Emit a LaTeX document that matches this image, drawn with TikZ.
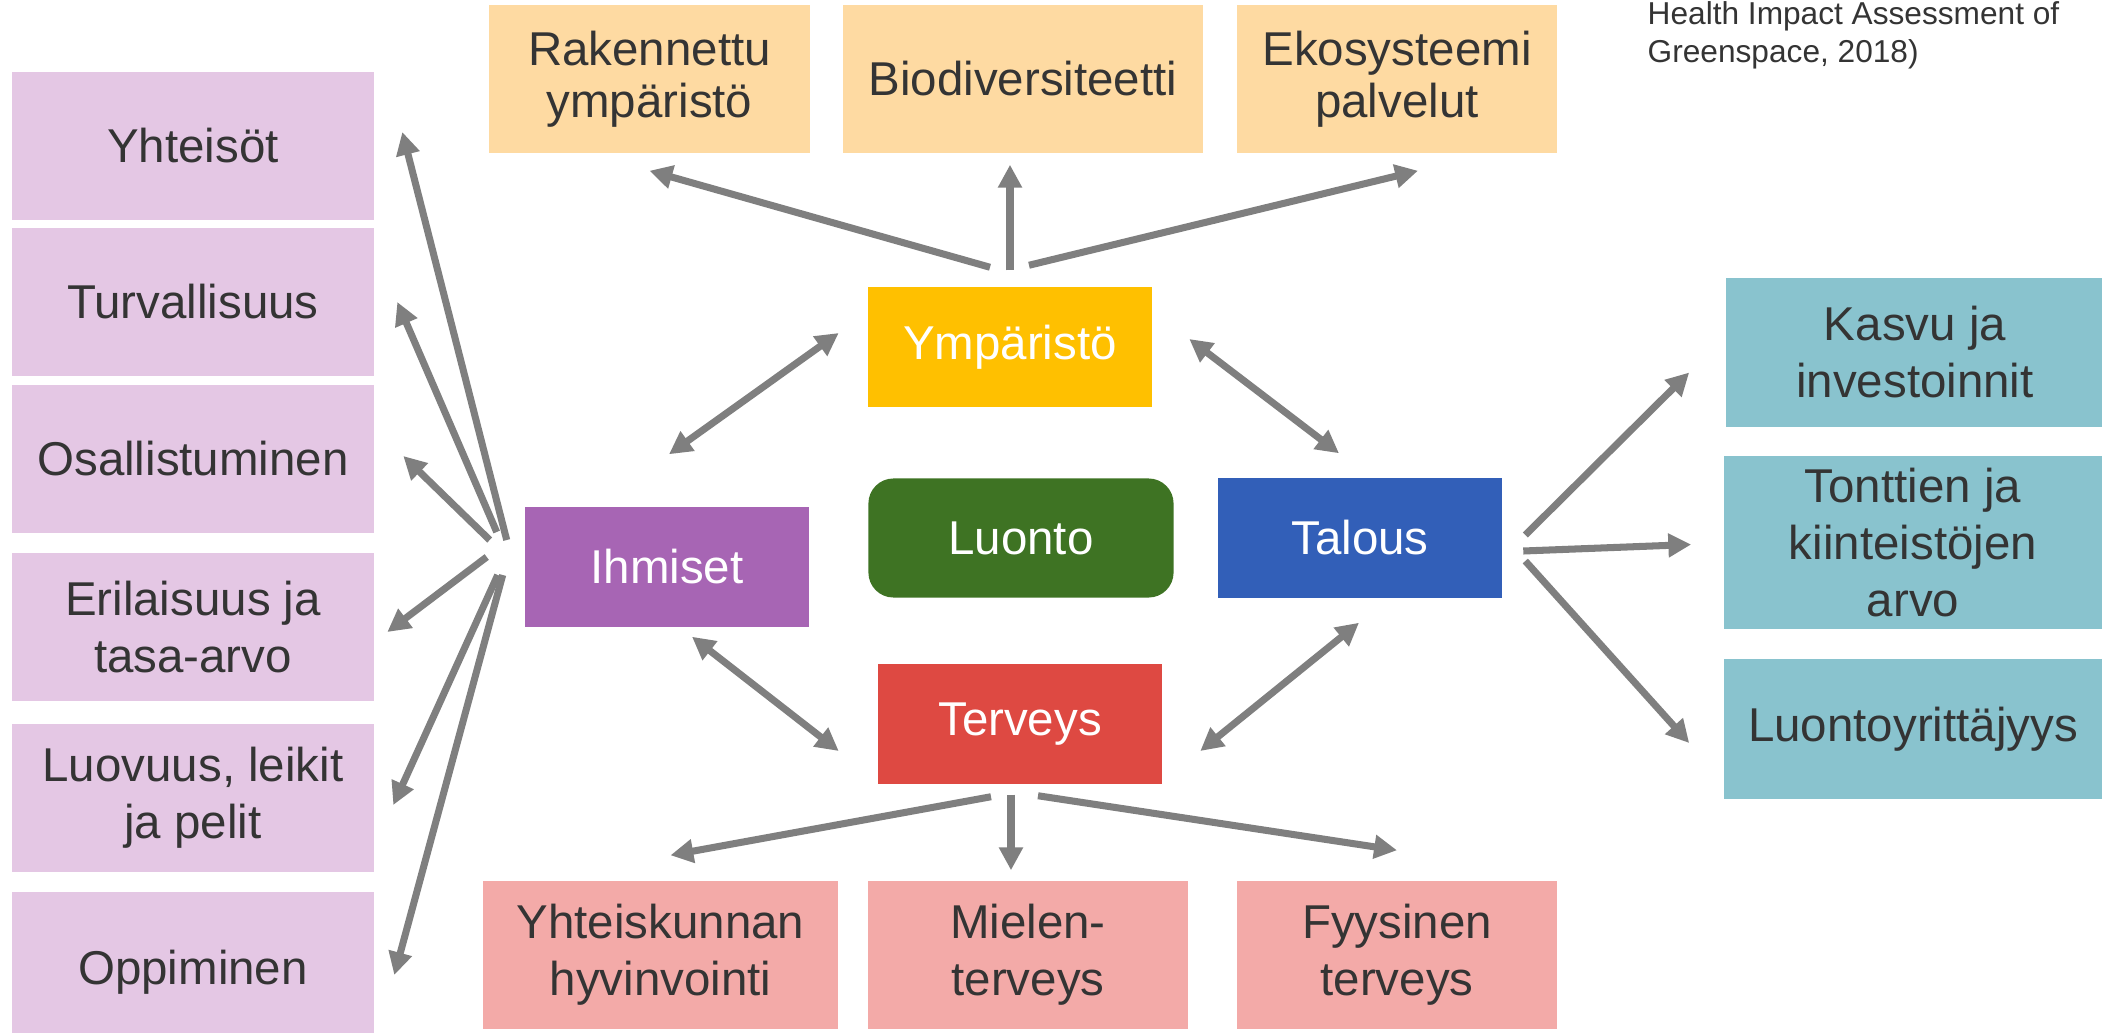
\documentclass[tikz,border=0pt]{standalone}
\usepackage{fontspec}
\setmainfont{Liberation Sans}
\usetikzlibrary{arrows.meta,calc}

\begin{document}
\begin{tikzpicture}[
    x=0.01cm, y=-0.01cm,
    every node/.style={font=\fontsize{13.5}{16.2}\selectfont, text=textgray, align=center, inner sep=0pt},
    side box/.style={fill=sidefill, minimum width=3.61cm, minimum height=1.48cm},
    env box/.style={fill=envfill, minimum height=1.48cm, font=\fontsize{13.5}{14.7}\selectfont},
    health box/.style={fill=healthfill, minimum height=1.48cm},
    econ box/.style={fill=econfill, minimum width=3.78cm},
    core/.style={minimum width=2.83cm, minimum height=1.2cm, text=white},
    src/.style={font=\fontsize{9}{10.8}\selectfont, align=left, anchor=north west},
    arr/.style={draw=arrowgray, line width=2pt, -{Triangle[length=6.5pt, width=6.5pt]}},
    twoway/.style={draw=arrowgray, line width=2pt, {Triangle[length=6.5pt, width=6.5pt]}-{Triangle[length=6.5pt, width=6.5pt]}}
]
\definecolor{textgray}{RGB}{52,52,52}
\definecolor{arrowgray}{RGB}{127,127,127}
\definecolor{sidefill}{RGB}{228,199,228}    % light purple
\definecolor{envfill}{RGB}{254,218,162}     % peach
\definecolor{healthfill}{RGB}{243,170,168}  % pink
\definecolor{econfill}{RGB}{137,195,206}    % teal
\definecolor{ympcol}{RGB}{255,192,0}
\definecolor{luontocol}{RGB}{62,115,35}
\definecolor{taloucol}{RGB}{50,95,184}
\definecolor{ihmcol}{RGB}{167,101,180}
\definecolor{tervcol}{RGB}{222,73,66}

\useasboundingbox (0,0) rectangle (2102,1033);

% Source note, top right
\node[src] (src) at (1647,1) {Health Impact Assessment of\\Greenspace, 2018)};

% Core
\node[core, fill=ympcol] (ymp) at (1010,347) {Ympäristö};
\node[core, fill=luontocol, minimum width=3.05cm, minimum height=1.19cm, rounded corners=0.25cm] (luonto) at (1021,538) {Luonto};
\node[core, fill=taloucol] (talous) at (1360,538) {Talous};
\node[core, fill=ihmcol] (ihm) at (667,567) {Ihmiset};
\node[core, fill=tervcol] (terv) at (1020,724) {Terveys};

% Left column
\node[side box] (yht) at (193,146) {Yhteisöt};
\node[side box] (turv) at (193,302) {Turvallisuus};
\node[side box] (osal) at (193,459) {Osallistuminen};
\node[side box] (eril) at (193,627) {Erilaisuus ja\\tasa-arvo};
\node[side box] (luov) at (193,798) {Luovuus, leikit\\ja pelit};
\node[side box, minimum height=1.6cm] (opp) at (193,972) {Oppiminen};

% Top row
\node[env box, minimum width=3.21cm] (rak) at (649.5,79) {Rakennettu\\ympäristö};
\node[env box, minimum width=3.6cm] (bio) at (1023,79) {Biodiversiteetti};
\node[env box, minimum width=3.2cm] (eko) at (1397,79) {Ekosysteemi\\palvelut};

% Bottom row
\node[health box, minimum width=3.55cm] (yhk) at (660.5,955) {Yhteiskunnan\\hyvinvointi};
\node[health box, minimum width=3.2cm] (miel) at (1028,955) {Mielen-\\terveys};
\node[health box, minimum width=3.2cm] (fyys) at (1397,955) {Fyysinen\\terveys};

% Right column
\node[econ box, minimum height=1.49cm] (kasvu) at (1915,352.5) {Kasvu ja\\investoinnit};
\node[econ box, minimum height=1.73cm] (tont) at (1913,542.5) {Tonttien ja\\kiinteistöjen\\arvo};
\node[econ box, minimum height=1.40cm] (lyr) at (1913,729) {Luontoyrittäjyys};

% Links between core boxes
\draw[twoway] ($(ihm.north)+(2,-52)$) -- ($(ymp.west)+(-29,-14)$);
\draw[twoway] ($(ymp.east)+(37,-8)$) -- ($(talous.north)+(-21,-24)$);
\draw[twoway] ($(ihm.south)+(25,9)$) -- ($(terv.west)+(-39,27)$);
\draw[twoway] ($(talous.south)+(-1,24)$) -- ($(terv.east)+(38,27)$);

% Ihmiset fan
\draw[arr] ($(ihm.west)+(-18,-27)$) -- ($(yht.east)+(28,-14)$);
\draw[arr] ($(ihm.west)+(-28,-35)$) -- ($(turv.east)+(23,0)$);
\draw[arr] ($(ihm.west)+(-35,-27)$) -- ($(osal.east)+(29,-3)$);
\draw[arr] ($(ihm.west)+(-38,-10)$) -- ($(eril.east)+(13,5)$);
\draw[arr] ($(ihm.west)+(-27,8)$) -- ($(luov.east)+(19,7)$);
\draw[arr] ($(ihm.west)+(-22,8)$) -- ($(opp.east)+(20,3)$);

% Ympäristö fan
\draw[arr] ($(ymp.north)+(-20,-19)$) -- ($(rak.south)+(0,17)$);
\draw[arr] ($(ymp.north)+(0,-16)$) -- ($(bio.south)+(-13,11)$);
\draw[arr] ($(ymp.north)+(19,-21)$) -- ($(eko.south)+(21,17)$);

% Terveys fan
\draw[arr] ($(terv.south)+(-29,12)$) -- ($(yhk.north)+(10,-25)$);
\draw[arr] ($(terv.south)+(-9,10)$) -- ($(miel.north)+(-17,-10)$);
\draw[arr] ($(terv.south)+(18,11)$) -- ($(fyys.north)+(0,-30)$);

% Talous fan
\draw[arr] ($(talous.east)+(23,-3)$) -- ($(kasvu.west)+(-36,20)$);
\draw[arr] ($(talous.east)+(21,13)$) -- ($(tont.west)+(-32,2)$);
\draw[arr] ($(talous.east)+(23,23)$) -- ($(lyr.west)+(-34,14)$);

\end{tikzpicture}
\end{document}
